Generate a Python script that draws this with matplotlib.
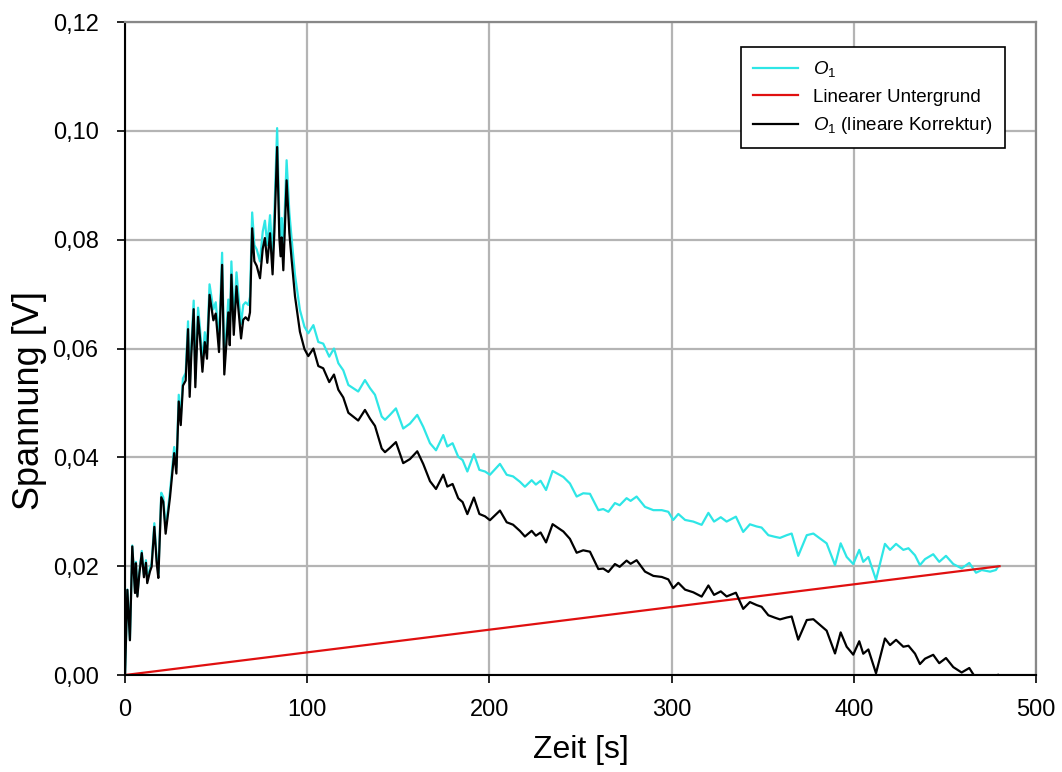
import numpy as np
import matplotlib.pyplot as plt
from matplotlib.ticker import FuncFormatter

plt.rcParams['font.family'] = ['Liberation Sans', 'DejaVu Sans']
plt.rcParams['mathtext.fontset'] = 'custom'
plt.rcParams['mathtext.rm'] = 'Liberation Sans'
plt.rcParams['mathtext.it'] = 'Liberation Sans:italic'

zeit = [0, 1.3, 2.7, 4.0, 5.5, 6.0, 6.8, 7.9, 9.2, 10.4, 11.5, 12.2, 13.7, 14.6,
        16.1, 17.4, 18.3, 19.9, 21.0, 22.3, 23.4, 24.7, 27.0, 28.2, 29.5, 30.6,
        31.8, 33.3, 34.6, 35.5, 36.4, 37.7, 38.6, 40.1, 41.1, 42.5, 43.8, 45.0,
        46.4, 48.5, 49.8, 51.6, 53.3, 54.5, 55.8, 56.7, 57.5, 58.4, 59.7, 61.2,
        62.2, 63.7, 64.9, 66.2, 67.7, 68.6, 69.8, 71.0, 72.3, 74.1, 75.6, 76.8,
        78.1, 79.6, 81.0, 82.0, 83.5, 84.7, 85.4, 86.0, 86.9, 88.7, 90.2, 91.5,
        93.3, 96.0, 98.5, 100.6, 103.4, 106.1, 108.8, 112.1, 114.7, 117.1, 119.8,
        122.6, 125.3, 128.0, 131.7, 134.5, 137.2, 140.9, 142.7, 145.4, 148.7,
        152.7, 156.4, 160.4, 163.7, 167.4, 170.7, 174.7, 176.9, 179.8, 182.9,
        185.3, 187.9, 191.5, 194.5, 197.6, 200.3, 205.8, 209.5, 213.0, 216.8,
        219.5, 223.2, 225.5, 228.1, 231.1, 234.7, 240.6, 244.2, 247.9, 251.5,
        255.2, 259.8, 262.5, 265.3, 268.9, 271.5, 275.3, 277.5, 280.8, 285.4,
        290.0, 294.6, 298.2, 300.9, 303.7, 307.4, 311.9, 316.5, 320.2, 323.3,
        327.0, 330.2, 335.3, 339.3, 343.0, 346.7, 349.4, 353.1, 356.7, 359.5,
        363.2, 365.9, 369.5, 374.2, 377.8, 381.5, 385.1, 389.7, 392.8, 396.1,
        399.7, 403.0, 405.2, 408.0, 412.2, 414.4, 417.1, 419.9, 423.2, 427.2,
        430.0, 433.6, 436.3, 439.1, 443.6, 446.9, 450.6, 454.6, 459.2, 463.4,
        467.1, 470.2, 474.8, 478.0, 479.3]
o1 = [0.0, 0.0157, 0.0065, 0.0238, 0.0153, 0.0208, 0.0147, 0.0190, 0.0228, 0.0184,
      0.0211, 0.0174, 0.0196, 0.0205, 0.0279, 0.0213, 0.0186, 0.0335, 0.0327,
      0.0269, 0.0300, 0.0337, 0.0419, 0.0382, 0.0515, 0.0472, 0.0545, 0.0555,
      0.0650, 0.0526, 0.0605, 0.0688, 0.0545, 0.0675, 0.0640, 0.0575, 0.0630,
      0.0600, 0.0718, 0.0672, 0.0685, 0.0615, 0.0776, 0.0575, 0.0640, 0.0690,
      0.0630, 0.0760, 0.0650, 0.0740, 0.0700, 0.0645, 0.0680, 0.0685, 0.0680,
      0.0695, 0.0850, 0.0790, 0.0782, 0.0760, 0.0815, 0.0835, 0.0790, 0.0845,
      0.0770, 0.0850, 0.1005, 0.0840, 0.0805, 0.0840, 0.0780, 0.0946, 0.0850,
      0.0800, 0.0735, 0.0671, 0.0640, 0.0628, 0.0643, 0.0612, 0.0609, 0.0585,
      0.0600, 0.0573, 0.0560, 0.0533, 0.0527, 0.0521, 0.0542, 0.0527, 0.0515,
      0.0475, 0.0469, 0.0478, 0.0490, 0.0453, 0.0462, 0.0478, 0.0456, 0.0426,
      0.0413, 0.0441, 0.0420, 0.0426, 0.0401, 0.0395, 0.0374, 0.0406, 0.0377,
      0.0374, 0.0368, 0.0388, 0.0368, 0.0365, 0.0355, 0.0346, 0.0358, 0.0350,
      0.0357, 0.0340, 0.0375, 0.0364, 0.0352, 0.0328, 0.0334, 0.0333, 0.0303,
      0.0305, 0.0300, 0.0316, 0.0312, 0.0325, 0.0320, 0.0328, 0.0309, 0.0303,
      0.0303, 0.0300, 0.0285, 0.0296, 0.0285, 0.0282, 0.0276, 0.0298, 0.0282,
      0.0290, 0.0282, 0.0291, 0.0263, 0.0277, 0.0273, 0.0271, 0.0257, 0.0254,
      0.0252, 0.0257, 0.0260, 0.0219, 0.0257, 0.0260, 0.0251, 0.0242, 0.0202,
      0.0242, 0.0217, 0.0204, 0.0230, 0.0208, 0.0217, 0.0175, 0.0205, 0.0241,
      0.0230, 0.0241, 0.0230, 0.0233, 0.0220, 0.0202, 0.0213, 0.0222, 0.0208,
      0.0219, 0.0204, 0.0196, 0.0206, 0.0188, 0.0193, 0.0190, 0.0193, 0.0200]

# linearer Untergrund (Endpunkte)
untergrund_t = [0, 480]
untergrund_v = [0.0, 0.020]

zeit = np.array(zeit)
o1 = np.array(o1)
korrektur = o1 - np.interp(zeit, untergrund_t, untergrund_v)

fig = plt.figure(figsize=(10.62, 7.72), dpi=100)
ax = fig.add_axes([0.1177, 0.1256, 0.8578, 0.8459])

ax.plot(zeit, o1, color='#2ee6e6', lw=1.6, label='$O_1$')
ax.plot(untergrund_t, untergrund_v, color='#e01010', lw=1.6, label='Linearer Untergrund')
ax.plot(zeit, korrektur, color='black', lw=1.6, label='$O_1$ (lineare Korrektur)')

ax.set_xlim(0, 500)
ax.set_ylim(0, 0.12)
ax.set_xticks([0, 100, 200, 300, 400, 500])
ax.set_yticks([0, 0.02, 0.04, 0.06, 0.08, 0.10, 0.12])
ax.yaxis.set_major_formatter(FuncFormatter(lambda v, p: f'{v:.2f}'.replace('.', ',')))
ax.grid(True, color='#b4b4b4', lw=1.6)
ax.set_axisbelow(True)
ax.tick_params(direction='out', length=6, width=1.2, labelsize=17)
ax.tick_params(axis='x', pad=11)
ax.tick_params(axis='y', pad=13)

for s in ['left', 'bottom']:
    ax.spines[s].set_linewidth(1.5)
    ax.spines[s].set_color('black')
for s in ['top', 'right']:
    ax.spines[s].set_linewidth(1.6)
    ax.spines[s].set_color('#888888')

ax.set_xlabel('Zeit [s]', fontsize=23)
ax.xaxis.set_label_coords(0.5, -0.092)
ax.set_ylabel('Spannung [V]', fontsize=26)
ax.yaxis.set_label_coords(-0.086, 0.42)

leg = ax.legend(loc='upper right', bbox_to_anchor=(0.966, 0.9617), fontsize=13.5,
                fancybox=False, framealpha=1, edgecolor='black', handlelength=2.4,
                borderpad=0.65, labelspacing=0.5, handletextpad=0.8,
                borderaxespad=0)
leg.get_frame().set_linewidth(1.2)

plt.savefig('out.png', dpi=100)
